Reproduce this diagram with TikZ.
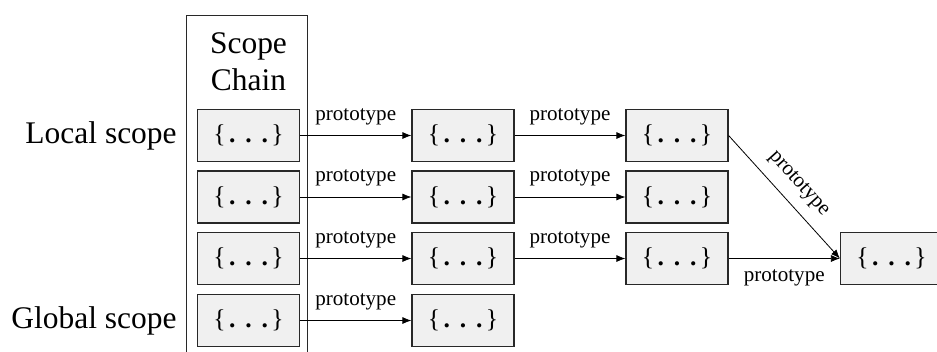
\documentclass[tikz,border=0pt]{standalone}
\usepackage{fontspec}
\setmainfont{Liberation Serif}
\usetikzlibrary{arrows.meta}
\definecolor{boxfill}{RGB}{240,240,240}
\definecolor{boxline}{RGB}{40,40,40}
\newcommand{\objtext}{\{\hspace{2.6pt}\textbf{.}\hspace{7.4pt}\textbf{.}\hspace{7.4pt}\textbf{.}\hspace{2.6pt}\}}
\begin{document}
\begin{tikzpicture}[x=0.75pt,y=-0.75pt,
  obj/.style={draw=boxline, fill=boxfill, line width=0.9pt, minimum width=76.5pt, minimum height=39pt, inner sep=0pt, font=\fontsize{19.2}{20}\selectfont},
  link/.style={-{Latex[length=6.75pt,width=5.25pt]}, line width=0.6pt},
  lbl/.style={font=\fontsize{15.8}{18}\selectfont, inner sep=0pt},
  big/.style={font=\fontsize{23.6}{28}\selectfont, inner sep=0pt}]
\useasboundingbox (0,0) rectangle (937,351);
\clip (0,0) rectangle (937,351);
% scope chain frame
\coordinate (fbl) at (186,360);
\coordinate (ftr) at (307,15);
\draw[line width=0.6pt, draw=boxline] (fbl) |- (ftr) -- (ftr |- fbl);
\node[big, anchor=base] (scope) at (248.5,53) {Scope};
\node[big, anchor=base] (chain) at (248.5,90) {Chain};
% objects
\node[obj] (c11) at (248.5,135.5) {\objtext};
\node[obj] (c12) at (248.5,197) {\objtext};
\node[obj] (c13) at (248.5,258.5) {\objtext};
\node[obj] (c14) at (248.5,320.5) {\objtext};
\node[obj] (c21) at (463,135.5) {\objtext};
\node[obj] (c22) at (463,197) {\objtext};
\node[obj] (c23) at (463,258.5) {\objtext};
\node[obj] (c24) at (463,320.5) {\objtext};
\node[obj] (c31) at (677,135.5) {\objtext};
\node[obj] (c32) at (677,197) {\objtext};
\node[obj] (c33) at (677,258.5) {\objtext};
\node[obj] (c43) at (891.5,258.5) {\objtext};
% side labels
\node[big, anchor=east] (local) at ([xshift=-15pt]c11.west) {Local scope};
\node[big, anchor=east] (global) at ([xshift=-15pt]c14.west) {Global scope};
% links
\draw[link] (c11) -- node[lbl, midway, anchor=base, yshift=11.6pt] {prototype} (c21);
\draw[link] (c12) -- node[lbl, midway, anchor=base, yshift=11.6pt] {prototype} (c22);
\draw[link] (c13) -- node[lbl, midway, anchor=base, yshift=11.6pt] {prototype} (c23);
\draw[link] (c14) -- node[lbl, midway, anchor=base, yshift=11.6pt] {prototype} (c24);
\draw[link] (c21) -- node[lbl, midway, anchor=base, yshift=11.6pt] {prototype} (c31);
\draw[link] (c22) -- node[lbl, midway, anchor=base, yshift=11.6pt] {prototype} (c32);
\draw[link] (c23) -- node[lbl, midway, anchor=base, yshift=11.6pt] {prototype} (c33);
\draw[link] (c31.east) -- node[lbl, midway, sloped, above=8pt] {prototype} (c43.west);
\draw[link] (c33) -- node[lbl, midway, anchor=base, yshift=-17.6pt] {prototype} (c43);
\end{tikzpicture}
\end{document}
